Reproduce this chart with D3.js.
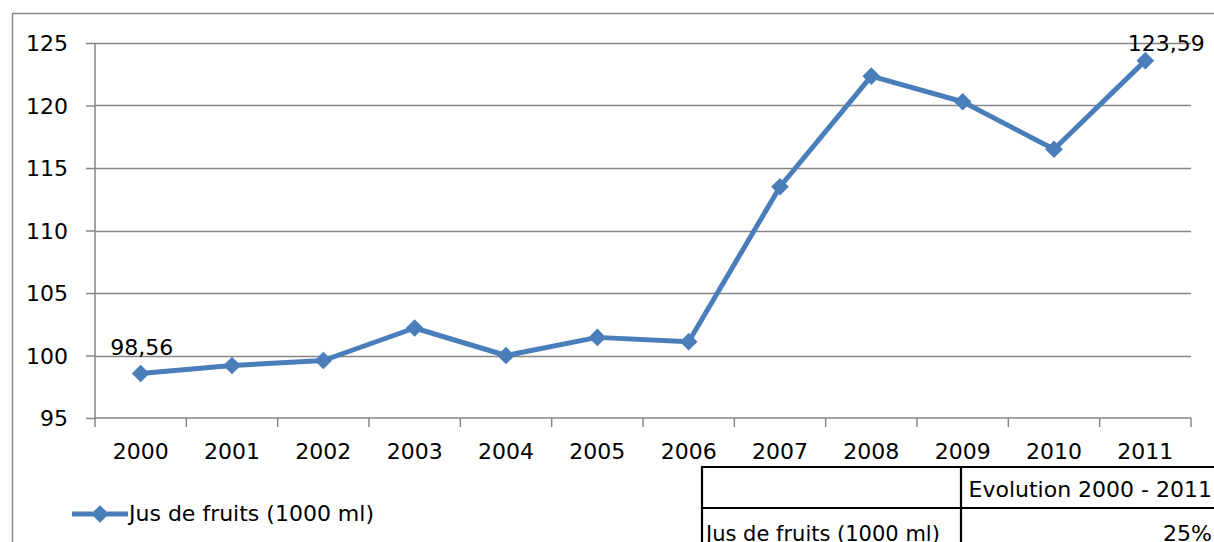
<!DOCTYPE html>
<html>
<head>
<meta charset="utf-8">
<script src="https://cdn.jsdelivr.net/npm/d3@7"></script>
<style>
  body { margin: 0; background: #fff; }
  text { font-family: 'DejaVu Sans', 'Open Sans', sans-serif; fill: #000; }
</style>
</head>
<body>
<div id="chart"></div>
<script>
const years = ['2000', '2001', '2002', '2003', '2004', '2005', '2006', '2007', '2008', '2009', '2010', '2011'];
const values = [98.56, 99.2, 99.6, 102.2, 100.0, 101.45, 101.1, 113.5, 122.35, 120.3, 116.5, 123.59];
const yTicks = [95, 100, 105, 110, 115, 120, 125];
const seriesName = 'Jus de fruits (1000 ml)';
const tableHeader = 'Evolution 2000 - 2011';
const tableValue = '25%';

const width = 1214;
const height = 542;
const margin = { top: 43, bottom: 124, left: 95, right: 23 };
const plotW = width - margin.left - margin.right;
const plotH = height - margin.top - margin.bottom;
const blue = '#4a7ebb';
const grid = '#868686';
const fs = '22px';

const svg = d3
  .select('#chart')
  .append('svg')
  .attr('width', width)
  .attr('height', height);

// chart frame (only left/top visible)
svg.append('path')
  .attr('d', `M12.5,${height} V13.5 H${width}`)
  .attr('fill', 'none')
  .attr('stroke', '#888')
  .attr('stroke-width', 1.5);

const x = d3.scaleBand().domain(years).range([0, plotW]);
const y = d3.scaleLinear().domain([95, 125]).range([plotH, 0]);

const chart = svg.append('g').attr('transform', `translate(${margin.left},${margin.top})`);

// gridlines
chart.append('g')
  .selectAll('line')
  .data(yTicks.slice(1))
  .enter()
  .append('line')
  .attr('x1', 0)
  .attr('x2', plotW)
  .attr('y1', d => Math.round(y(d)) + 0.5)
  .attr('y2', d => Math.round(y(d)) + 0.5)
  .attr('stroke', grid)
  .attr('stroke-width', 1.5);

// y axis
const yAxis = chart.append('g')
  .call(d3.axisLeft(y).tickValues(yTicks).tickSize(9).tickPadding(18));
yAxis.selectAll('line, path').attr('stroke', grid).attr('stroke-width', 1.5);
yAxis.select('.domain').attr('d', `M0,${plotH}V0`);
yAxis.selectAll('text').style('font-size', fs).attr('font-family', null).attr('dy', '0.36em');

// x axis
const xAxis = chart.append('g')
  .attr('transform', `translate(0,${plotH})`)
  .call(d3.axisBottom(x).tickSize(0).tickPadding(0));
xAxis.select('.domain').attr('stroke', grid).attr('stroke-width', 1.5).attr('d', `M0,0H${plotW}`);
xAxis.selectAll('text').style('font-size', fs).attr('font-family', null).attr('y', 41).attr('dy', 0);
chart.append('g')
  .selectAll('line')
  .data(years.concat(['end']))
  .enter()
  .append('line')
  .attr('x1', (d, i) => i * x.bandwidth())
  .attr('x2', (d, i) => i * x.bandwidth())
  .attr('y1', plotH)
  .attr('y2', plotH + 9)
  .attr('stroke', grid)
  .attr('stroke-width', 1.5);

// line
const cx = d => x(d.year) + x.bandwidth() / 2;
const pts = years.map((yr, i) => ({ year: yr, value: values[i] }));
const line = d3.line().x(cx).y(d => y(d.value));
chart.append('path')
  .datum(pts)
  .attr('d', line)
  .attr('fill', 'none')
  .attr('stroke', blue)
  .attr('stroke-width', 5)
  .attr('stroke-linejoin', 'round');

const diamond = d3.symbol().type(d3.symbolDiamond2).size(200);
chart.selectAll('.pt')
  .data(pts)
  .enter()
  .append('path')
  .attr('transform', d => `translate(${cx(d)},${y(d.value)})`)
  .attr('d', diamond)
  .attr('fill', blue);

// data labels: first and last (last one was nudged right in the original)
const fmt = v => v.toFixed(2).replace('.', ',');
const labels = [
  { d: pts[0], dx: 1, dy: -19 },
  { d: pts[pts.length - 1], dx: 21, dy: -10 },
];
labels.forEach(l => {
  chart.append('text')
    .attr('x', cx(l.d) + l.dx)
    .attr('y', y(l.d.value) + l.dy)
    .attr('text-anchor', 'middle')
    .style('font-size', '22px')
    .text(fmt(l.d.value));
});

// legend
const lg = svg.append('g').attr('transform', 'translate(72,514)');
lg.append('line').attr('x1', 0).attr('x2', 56).attr('stroke', blue).attr('stroke-width', 5);
lg.append('path').attr('transform', 'translate(28,0)').attr('d', diamond).attr('fill', blue);
lg.append('text').attr('x', 57).attr('y', 7).style('font-size', fs).text(seriesName);

// data table
const tb = svg.append('g');
const tl = 702, tm = 961, tt = 467, tr = 508;
tb.append('path')
  .attr('d', `M${tl},${height + 5} V${tt} H${width + 5} M${tl},${tr} H${width + 5} M${tm},${tt} V${height + 5}`)
  .attr('fill', 'none')
  .attr('stroke', '#000')
  .attr('stroke-width', 2.2);
tb.append('text').attr('x', 1212).attr('y', 497).attr('text-anchor', 'end').style('font-size', fs).text(tableHeader);
tb.append('text').attr('x', 1212).attr('y', 541).attr('text-anchor', 'end').style('font-size', fs).text(tableValue);
tb.append('text').attr('x', 706).attr('y', 541).style('font-size', '21px').text(seriesName);
</script>
</body>
</html>
